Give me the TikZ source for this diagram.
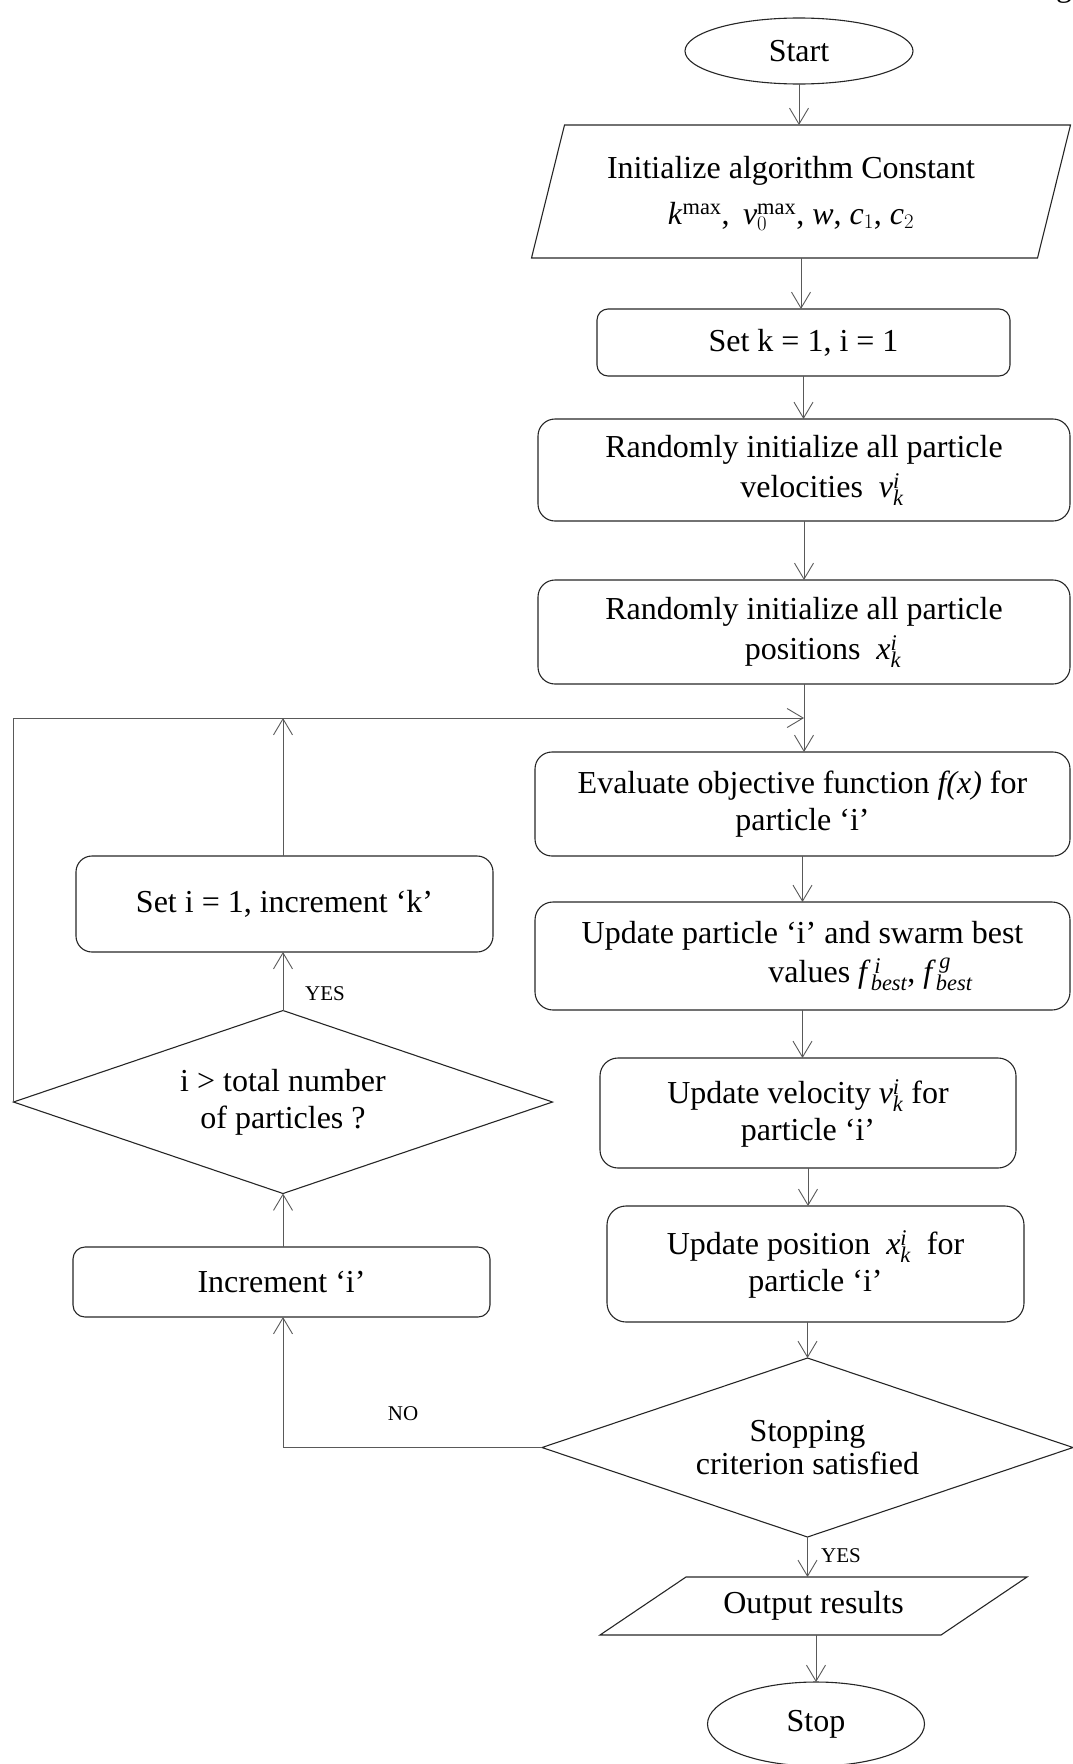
\documentclass[tikz,border=0pt]{standalone}
\usepackage{fontspec}
\setmainfont{Liberation Serif}
\usetikzlibrary{shapes.geometric,arrows.meta,calc}
\newcommand\mainsz{\fontsize{32}{37}\selectfont}
\newcommand\lblsz{\fontsize{21}{24}\selectfont}
\begin{document}
\begin{tikzpicture}[x=1pt,y=-1pt,
  box/.style={draw=black!85, line width=1.1pt, rounded corners=#1, align=center,
    inner sep=0pt, outer sep=0pt, font=\mainsz},
  term/.style={ellipse, draw=black!85, line width=1.1pt, inner sep=0pt, outer sep=0pt, font=\mainsz},
  dec/.style={diamond, aspect=3, draw=black!85, line width=1.1pt, inner sep=0pt, outer sep=0pt,
    align=center, font=\mainsz},
  iobox/.style={font=\mainsz, align=center, inner sep=0pt, outer sep=0pt},
  ioline/.style={draw=black!85, line width=1.1pt},
  conn/.style={draw=black!65, line width=0.9pt, -{Straight Barb[length=16pt,width=19pt]}},
  lbl/.style={font=\lblsz, inner sep=0pt}]
\useasboundingbox (0,0) rectangle (1073,1764);

% right column
\node[term, minimum width=228pt, minimum height=66pt] (start) at (799,51) {Start};
\node[iobox, minimum width=506pt, minimum height=133pt] (init) at (801,193)
  {Initialize algorithm Constant\hspace*{20pt}\\[9pt]
   \textit{k}$^{\mathrm{max}}$, \,\textit{v}$_{0}^{\mathrm{max}}$, \textit{w}, \textit{c}$_{1}$, \textit{c}$_{2}$\hspace*{20pt}};
\draw[ioline] ($(init.north west)+(16.5,-1.5)$) -- ($(init.north east)+(16.5,-1.5)$)
  -- ($(init.south east)+(-16.5,-1.5)$) -- ($(init.south west)+(-16.5,-1.5)$) -- cycle;
\node[box=11pt, minimum width=413pt, minimum height=67pt] (setk) at (803.5,342.5) {Set k = 1, i = 1};
\node[box=17pt, minimum width=532pt, minimum height=102pt] (vel) at (804,470)
  {\raisebox{0pt}[\height][0pt]{Randomly initialize all particle}\\[3pt]\hspace*{36pt}velocities \ \textit{v}$_{\mathit{k}}^{\mathit{i}}$};
\node[box=17pt, minimum width=532pt, minimum height=104pt] (pos) at (804,632)
  {\raisebox{0pt}[\height][0pt]{Randomly initialize all particle}\\[3pt]\hspace*{38pt}positions \ \textit{x}$_{\mathit{k}}^{\mathit{i}}$};
\node[box=17pt, minimum width=535pt, minimum height=104pt] (eval) at (802.5,804)
  {Evaluate objective function \textit{f(x)} for\\particle ‘i’};
\node[box=18pt, minimum width=535pt, minimum height=108pt] (upd) at (802.5,956)
  {Update particle ‘i’ and swarm best\\[2pt]\hspace*{136pt}values \textit{f}$^{\,\mathit{i}}_{\mathit{best}}$, \textit{f}$^{\,\mathit{g}}_{\mathit{best}}$};
\node[box=18pt, minimum width=416pt, minimum height=110pt] (velo) at (808,1113)
  {Update velocity \textit{v}$_{\mathit{k}}^{\mathit{i}}$ for\\particle ‘i’};
\node[box=19pt, minimum width=417pt, minimum height=116pt] (posu) at (815.5,1264)
  {Update position \ \textit{x}$_{\mathit{k}}^{\mathit{i}}$ \ for\\particle ‘i’};
\node[dec, minimum width=531pt, minimum height=179pt] (stopd) at (807.5,1447.5)
  {\raisebox{-4pt}{Stopping}\\criterion satisfied};
\node[iobox, minimum width=341pt, minimum height=58pt] (out) at (813.5,1606) {Output results};
\draw[ioline] ($(out.north west)+(43,0)$) -- ($(out.north east)+(43,0)$)
  -- ($(out.south east)+(-43,0)$) -- ($(out.south west)+(-43,0)$) -- cycle;
\node[term, minimum width=217pt, minimum height=84pt] (stop) at (816,1724) {Stop};

% left column
\node[box=16pt, minimum width=417pt, minimum height=96pt] (seti) at (284.5,904) {Set i = 1, increment ‘k’};
\node[dec, minimum width=539pt, minimum height=183pt] (dtot) at (283,1102) {i > total number\\of particles ?};
\node[box=12pt, minimum width=417pt, minimum height=70pt] (inc) at (281.5,1282) {Increment ‘i’};

\coordinate (join) at (pos.south |- 0,718);

% connectors
\draw[conn] (start.south) -- (start.south |- 0,125);
\draw[conn] (init.south |- 0,258) -- (init.south |- setk.north);
\draw[conn] (setk.south) -- (setk.south |- vel.north);
\draw[conn] (vel.south) -- (vel.south |- pos.north);
\draw[conn] (pos.south) -- (pos.south |- eval.north);
\draw[conn] (eval.south) -- (eval.south |- upd.north);
\draw[conn] (upd.south) -- (upd.south |- velo.north);
\draw[conn] (velo.south) -- (velo.south |- posu.north);
\draw[conn] (stopd.north |- posu.south) -- (stopd.north);
\draw[conn] (stopd.south) -- (stopd.south |- out.north);
\draw[conn] (stop.north |- out.south) -- (stop.north);

\draw[conn] (dtot.south |- inc.north) -- (dtot.south);
\draw[conn] (dtot.north) -- (dtot.north |- seti.south);
\draw[conn] (dtot.north |- seti.north) -- (dtot.north |- join);
\draw[conn] (dtot.west) -- (dtot.west |- join) -- (join);
\draw[conn] (stopd.west) -- (stopd.west -| dtot.south) -- (dtot.south |- inc.south);

% labels
\node[lbl] (yes1) at (325,994) {YES};
\node[lbl] (yes2) at (841,1556) {YES};
\node[lbl] (no) at (403,1414) {NO};
\node[font=\mainsz, anchor=base west, inner sep=0pt] (gfrag) at (1056,-3) {g};
\end{tikzpicture}
\end{document}
